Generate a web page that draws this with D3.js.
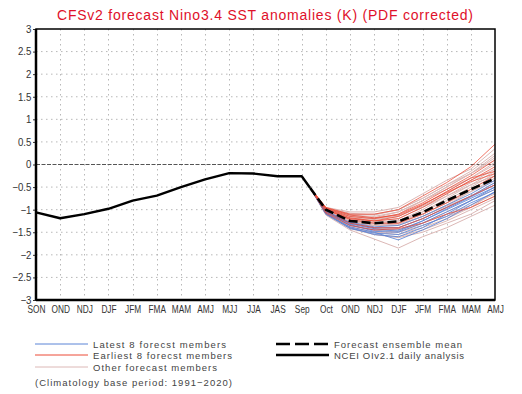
<!DOCTYPE html>
<html><head><meta charset="utf-8">
<script src="https://cdn.jsdelivr.net/npm/d3@7"></script>
<style>
html,body{margin:0;padding:0;background:#fff;}
svg{display:block;}
text{font-family:"Liberation Sans",Arial,sans-serif;}
</style></head>
<body>
<svg id="chart" width="522" height="394"></svg>
<script>
// ---- data ----
const categories = ["SON","OND","NDJ","DJF","JFM","FMA","MAM","AMJ","MJJ","JJA","JAS","Sep","Oct","OND","NDJ","DJF","JFM","FMA","MAM","AMJ"];
const yTicks = [-3,-2.5,-2,-1.5,-1,-0.5,0,0.5,1,1.5,2,2.5,3];
// observed (NCEI OIv2.1): category index positions and values (last point = latest daily analysis)
const obsX = [0,1,2,3,4,5,6,7,8,9,10,11,11.35];
const obsY = [-1.06,-1.19,-1.10,-0.98,-0.80,-0.69,-0.50,-0.33,-0.19,-0.20,-0.26,-0.26,-0.52];
// forecast positions: daily start, Oct .. AMJ
const fcX = [11.35,12,13,14,15,16,17,18,19];
const fcStart = -0.52;
const ensMean = [-1.00,-1.25,-1.30,-1.26,-1.06,-0.80,-0.55,-0.31];
const latest8 = [
 [-1.05,-1.35,-1.45,-1.45,-1.25,-1.00,-0.75,-0.50],
 [-1.08,-1.40,-1.55,-1.60,-1.40,-1.10,-0.80,-0.50],
 [-1.10,-1.38,-1.50,-1.67,-1.45,-1.20,-0.90,-0.60],
 [-1.02,-1.30,-1.40,-1.40,-1.20,-0.95,-0.70,-0.40],
 [-1.06,-1.33,-1.48,-1.50,-1.30,-1.05,-0.80,-0.55],
 [-1.04,-1.28,-1.38,-1.35,-1.15,-0.90,-0.65,-0.35],
 [-1.10,-1.42,-1.52,-1.55,-1.35,-1.15,-0.85,-0.62],
 [-1.03,-1.32,-1.42,-1.48,-1.25,-0.98,-0.72,-0.45]
];
const earliest8 = [
 [-0.95,-1.10,-1.10,-1.00,-0.70,-0.40,-0.05,0.45],
 [-0.97,-1.15,-1.20,-1.10,-0.85,-0.55,-0.25,0.10],
 [-1.00,-1.20,-1.25,-1.20,-0.95,-0.65,-0.35,-0.05],
 [-0.98,-1.18,-1.25,-1.15,-0.90,-0.60,-0.30,-0.15],
 [-1.05,-1.30,-1.40,-1.40,-1.20,-0.95,-0.70,-0.45],
 [-1.00,-1.22,-1.30,-1.30,-1.10,-0.85,-0.55,-0.25],
 [-1.08,-1.35,-1.45,-1.42,-1.30,-1.10,-0.95,-0.70],
 [-0.96,-1.12,-1.18,-1.12,-0.88,-0.62,-0.38,-0.20]
];
const otherMembers = [
 [-0.95,-1.05,-1.05,-0.95,-0.65,-0.35,-0.10,0.35],
 [-0.96,-1.08,-1.12,-1.00,-0.75,-0.45,-0.15,0.25],
 [-0.98,-1.12,-1.18,-1.05,-0.80,-0.50,-0.20,0.15],
 [-1.00,-1.15,-1.20,-1.10,-0.80,-0.55,-0.30,0.05],
 [-1.12,-1.45,-1.65,-1.85,-1.60,-1.40,-1.15,-0.90],
 [-1.08,-1.40,-1.55,-1.60,-1.45,-1.25,-1.00,-0.75],
 [-1.05,-1.30,-1.40,-1.45,-1.30,-1.10,-0.90,-0.65],
 [-1.02,-1.25,-1.35,-1.30,-1.05,-0.80,-0.50,-0.20],
 [-1.00,-1.20,-1.28,-1.25,-1.00,-0.70,-0.40,-0.10],
 [-0.97,-1.15,-1.20,-1.15,-0.90,-0.60,-0.30,0.00],
 [-1.03,-1.28,-1.35,-1.35,-1.15,-0.90,-0.60,-0.30],
 [-1.06,-1.35,-1.45,-1.50,-1.35,-1.15,-0.95,-0.70],
 [-1.04,-1.25,-1.30,-1.25,-1.05,-0.75,-0.45,-0.15],
 [-0.99,-1.20,-1.25,-1.20,-0.95,-0.70,-0.45,-0.25],
 [-1.01,-1.22,-1.30,-1.28,-1.10,-0.85,-0.60,-0.35],
 [-1.07,-1.38,-1.50,-1.55,-1.40,-1.20,-0.95,-0.60],
 [-0.98,-1.12,-1.15,-1.05,-0.80,-0.50,-0.20,0.20],
 [-1.02,-1.25,-1.32,-1.30,-1.10,-0.85,-0.55,-0.25],
 [-1.05,-1.30,-1.42,-1.40,-1.20,-0.95,-0.70,-0.40],
 [-1.00,-1.18,-1.22,-1.15,-0.92,-0.65,-0.35,-0.10],
 [-1.09,-1.40,-1.50,-1.50,-1.30,-1.05,-0.80,-0.55],
 [-0.97,-1.10,-1.10,-1.00,-0.75,-0.45,-0.20,0.10],
 [-1.03,-1.27,-1.35,-1.32,-1.15,-0.92,-0.70,-0.45],
 [-1.10,-1.42,-1.55,-1.62,-1.50,-1.30,-1.10,-0.80]
];
const titleText = "CFSv2 forecast Nino3.4 SST anomalies (K) (PDF corrected)";
const legendLeft = ["Latest 8 forecst members","Earliest 8 forecst members","Other forecast members"];
const legendRight = ["Forecast ensemble mean","NCEI OIv2.1 daily analysis"];
const climNote = "(Climatology base period: 1991\u22122020)";

// ---- drawing ----
const svg = d3.select("#chart");
const L = 36, R = 495, T = 29, B = 300;
const x = d3.scaleLinear().domain([0, categories.length - 1]).range([L, R]);
const y = d3.scaleLinear().domain([-3, 3]).range([B, T]);
const colBlue = "#5b84d6", colRed = "#ec4a36", colOther = "#dcb8b6";

svg.append("text").attr("x", 57).attr("y", 20).attr("fill", "#e0102a")
  .attr("font-size", 14).attr("textLength", 416).attr("lengthAdjust", "spacing").text(titleText);

// grid
const g = svg.append("g");
g.selectAll(".hg").data(yTicks.filter(v => v !== 0 && v !== 3 && v !== -3)).enter().append("line")
  .attr("x1", L).attr("x2", R).attr("y1", d => y(d)).attr("y2", d => y(d))
  .attr("stroke", "#b8b8b8").attr("stroke-width", 1).attr("stroke-dasharray", "1.5,3.5");
g.selectAll(".vg").data(d3.range(1, categories.length - 1)).enter().append("line")
  .attr("x1", d => Math.round(x(d)) + 0.5).attr("x2", d => Math.round(x(d)) + 0.5).attr("y1", T).attr("y2", B)
  .attr("stroke", "#b8b8b8").attr("stroke-width", 1).attr("stroke-dasharray", "1.5,3.5");
// zero line
g.append("line").attr("x1", L).attr("x2", R).attr("y1", y(0)).attr("y2", y(0))
  .attr("stroke", "#555").attr("stroke-width", 1.2).attr("stroke-dasharray", "4,1.5");

// axes
const yAxis = d3.axisLeft(y).tickValues(yTicks).tickSize(3).tickPadding(2)
  .tickFormat(d => d3.format("")(d).replace("-", "\u2212"));
const ya = svg.append("g").attr("transform", `translate(${L},0)`).call(yAxis);
ya.select(".domain").remove();
ya.selectAll("text").attr("font-size", 10.5).attr("fill", "#333").attr("transform", "scale(0.92,1)");
ya.selectAll("line").attr("stroke", "#333");
const xAxis = d3.axisBottom(x).tickValues(d3.range(categories.length)).tickSize(0).tickPadding(6).tickFormat(i => categories[i]);
const xa = svg.append("g").attr("transform", `translate(0,${B})`).call(xAxis);
xa.select(".domain").remove();
xa.selectAll("text").attr("font-size", 10.5).attr("fill", "#333").attr("transform", "scale(0.79,1)");

// members
const line = d3.line().x(d => x(d[0])).y(d => y(d[1]));
const mk = vals => [[fcX[0], fcStart]].concat(vals.map((v, i) => [fcX[i + 1], v]));
const mg = svg.append("g").attr("fill", "none");
mg.selectAll(".o").data(otherMembers).enter().append("path").attr("d", d => line(mk(d)))
  .attr("stroke", colOther).attr("stroke-width", 1);
mg.selectAll(".b").data(latest8).enter().append("path").attr("d", d => line(mk(d)))
  .attr("stroke", colBlue).attr("stroke-width", 1).attr("stroke-opacity", 0.85);
mg.selectAll(".r").data(earliest8).enter().append("path").attr("d", d => line(mk(d)))
  .attr("stroke", colRed).attr("stroke-width", 1).attr("stroke-opacity", 0.75);
// ensemble mean
mg.append("path").attr("d", line(mk(ensMean))).attr("stroke", "#000").attr("stroke-width", 2.6)
  .attr("stroke-dasharray", "9,4");
// observed
mg.append("path").attr("d", line(obsX.map((v, i) => [v, obsY[i]]))).attr("stroke", "#000").attr("stroke-width", 2.4)
  .attr("stroke-linejoin", "round");

// frame
svg.append("rect").attr("x", L).attr("y", T).attr("width", R - L).attr("height", B - T)
  .attr("fill", "none").attr("stroke", "#000").attr("stroke-width", 1.5);
svg.append("line").attr("x1", L).attr("x2", L).attr("y1", T).attr("y2", B).attr("stroke", "#000").attr("stroke-width", 2.5);
svg.append("line").attr("x1", L).attr("x2", R).attr("y1", B).attr("y2", B).attr("stroke", "#000").attr("stroke-width", 2.5);

// legend
const lg = svg.append("g").attr("font-size", 9.5).attr("fill", "#444");
const leftRows = [344, 355, 367];
const leftCols = [colBlue, colRed, colOther];
const leftLens = [133, 139, 124];
legendLeft.forEach((t, i) => {
  lg.append("line").attr("x1", 35).attr("x2", 88).attr("y1", leftRows[i]).attr("y2", leftRows[i]).attr("stroke", leftCols[i]).attr("stroke-width", 1);
  lg.append("text").attr("x", 93).attr("y", leftRows[i] + 3.5).attr("textLength", leftLens[i]).attr("lengthAdjust", "spacing").text(t);
});
lg.append("text").attr("x", 35).attr("y", 385.5).attr("textLength", 197).attr("lengthAdjust", "spacing").text(climNote);
const rightLens = [128, 130];
legendRight.forEach((t, i) => {
  lg.append("line").attr("x1", 276).attr("x2", 329).attr("y1", leftRows[i]).attr("y2", leftRows[i]).attr("stroke", "#000")
    .attr("stroke-width", 2.5).attr("stroke-dasharray", i === 0 ? "14,5" : null);
  lg.append("text").attr("x", 334).attr("y", leftRows[i] + 3.5).attr("textLength", rightLens[i]).attr("lengthAdjust", "spacing").text(t);
});
</script>
</body></html>
